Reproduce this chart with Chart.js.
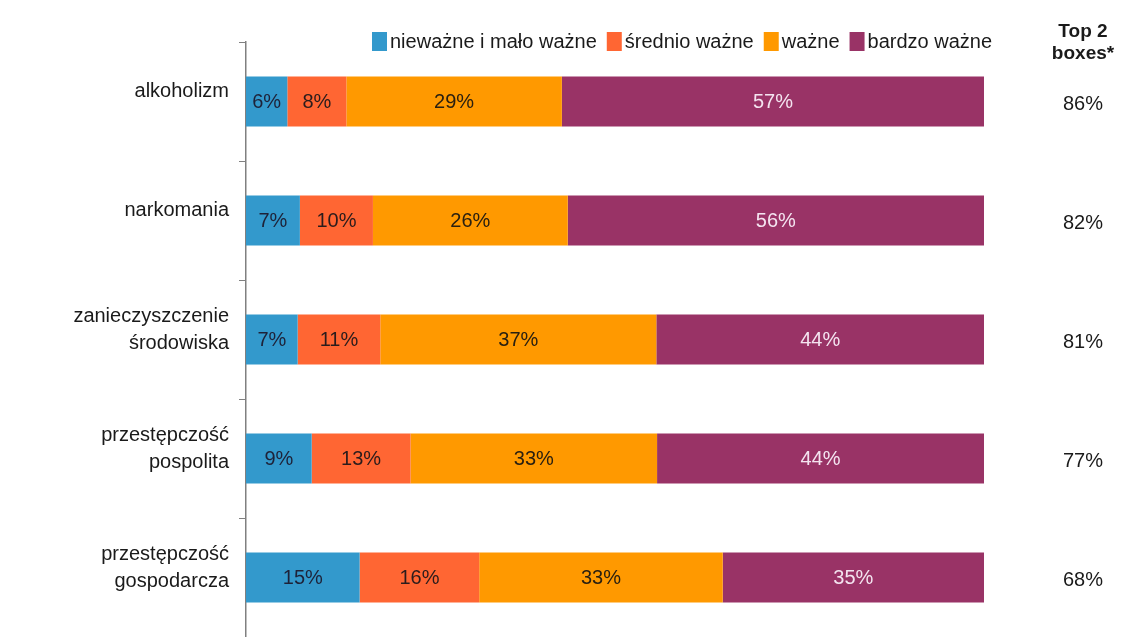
<!DOCTYPE html>
<html lang="pl">
<head>
<meta charset="utf-8">
<title>Ważność problemów</title>
<script src="https://cdn.jsdelivr.net/npm/chart.js@4.4.1/dist/chart.umd.min.js"></script>
<style>
    html, body { margin: 0; padding: 0; background: #fff; }
    #wrap { width: 1142px; height: 637px; position: relative; }
</style>
</head>
<body>
<div id="wrap"><canvas id="chart"></canvas></div>
<script>
// --- Data ---
const categories = [
    'alkoholizm',
    'narkomania',
    ['zanieczyszczenie', 'środowiska'],
    ['przestępczość', 'pospolita'],
    ['przestępczość', 'gospodarcza']
];
const seriesNames = ['nieważne i mało ważne', 'średnio ważne', 'ważne', 'bardzo ważne'];

// bar lengths (% of row)
const niewazne = [5.6, 7.3, 7.0, 8.9, 15.4];
const srednio  = [8.0, 9.9, 11.2, 13.4, 16.2];
const wazne    = [29.2, 26.4, 37.4, 33.4, 33.0];
const bardzo   = [57.2, 56.4, 44.4, 44.3, 35.4];

// "Top 2 boxes*" column
const top2 = [86, 82, 81, 77, 68];

const colors = ['#3399cc', '#ff6633', '#ff9900', '#993366'];
const labelColors = ['#1e2238', '#2a1c1c', '#2a2010', '#f4e4f0'];
const FONT = '"Liberation Sans", Arial, sans-serif';

// --- Plugins ---
// percent labels centred in each segment
const barLabels = {
    id: 'barLabels',
    afterDatasetsDraw(chart) {
        const ctx = chart.ctx;
        ctx.save();
        ctx.font = '20px ' + FONT;
        ctx.textAlign = 'center';
        ctx.textBaseline = 'middle';
        chart.data.datasets.forEach((ds, i) => {
            const meta = chart.getDatasetMeta(i);
            meta.data.forEach((bar, j) => {
                const cx = (bar.x + bar.base) / 2;
                ctx.fillStyle = labelColors[i];
                ctx.fillText(Math.round(ds.data[j]) + '%', cx, bar.y + 1);
            });
        });
        ctx.restore();
    }
};

// legend over the plot + Top 2 column on the right
const extras = {
    id: 'extras',
    afterDraw(chart) {
        const ctx = chart.ctx;
        ctx.save();

        // legend row
        ctx.font = '20px ' + FONT;
        ctx.textAlign = 'left';
        ctx.textBaseline = 'middle';
        let x = 372;
        chart.data.datasets.forEach(ds => {
            ctx.fillStyle = ds.backgroundColor;
            ctx.fillRect(x, 32, 15, 19);
            x += 18;
            ctx.fillStyle = '#1a1a1a';
            ctx.fillText(ds.label, x, 42);
            x += ctx.measureText(ds.label).width + 10;
        });

        // Top 2 header
        const colX = 1083;
        ctx.textAlign = 'center';
        ctx.fillStyle = '#1a1a1a';
        ctx.font = 'bold 19px ' + FONT;
        ctx.fillText('Top 2', colX, 32);
        ctx.fillText('boxes*', colX, 54);

        // Top 2 values at each category
        const yScale = chart.scales.y;
        ctx.font = '20px ' + FONT;
        top2.forEach((v, i) => {
            ctx.fillText(v + '%', colX, yScale.getPixelForValue(i) + 3);
        });
        ctx.restore();
    }
};

// --- Chart ---
const datasets = [niewazne, srednio, wazne, bardzo].map((vals, i) => ({
    label: seriesNames[i],
    data: vals,
    backgroundColor: colors[i],
    borderWidth: 0,
    barPercentage: 0.42,
    categoryPercentage: 1.0
}));

new Chart(document.getElementById('chart'), {
    type: 'bar',
    data: { labels: categories, datasets: datasets },
    options: {
        indexAxis: 'y',
        responsive: true,
        maintainAspectRatio: false,
        animation: false,
        layout: { padding: { top: 42, right: 158, bottom: 0, left: 0 } },
        plugins: {
            legend: { display: false },
            tooltip: { enabled: false }
        },
        scales: {
            x: { stacked: true, min: 0, max: 100, display: false },
            y: {
                stacked: true,
                afterFit(scale) {
                    scale.width = 246;
                    // let the axis run to the bottom edge like the original
                    scale.paddingTop = 0;
                    scale.paddingBottom = 0;
                },
                grid: {
                    offset: true,
                    drawOnChartArea: false,
                    tickLength: 7,
                    color: '#808080'
                },
                border: { display: true, color: '#808080', width: 1.5 },
                ticks: {
                    autoSkip: false,
                    padding: 10,
                    labelOffset: -10,
                    color: '#1a1a1a',
                    font: { family: FONT, size: 20, lineHeight: 1.35 }
                }
            }
        }
    },
    plugins: [barLabels, extras]
});
</script>
</body>
</html>
